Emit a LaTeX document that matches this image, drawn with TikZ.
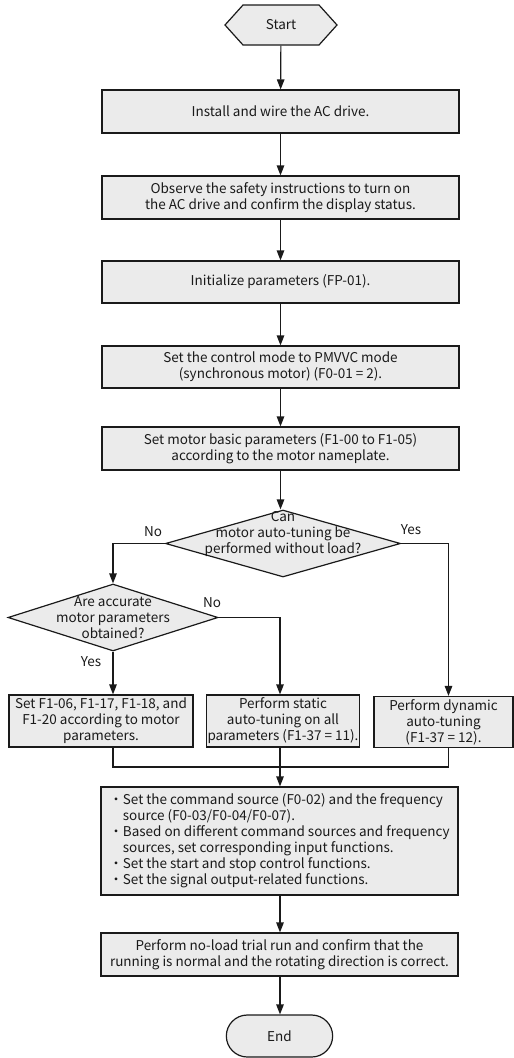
\documentclass[tikz,border=0pt]{standalone}
\usepackage{fontspec}
\setmainfont{Noto Sans CJK SC}
\usetikzlibrary{shapes.geometric,shapes.misc,shapes.symbols,arrows.meta,calc}
\definecolor{boxfill}{HTML}{EBEBEB}
\definecolor{darkline}{HTML}{1A1A1A}

\begin{document}
\begin{tikzpicture}[x=1pt,y=-1pt,
  every node/.style={font=\fontsize{13.5}{16}\selectfont, text=darkline},
  box/.style={draw=darkline, fill=boxfill, line width=1.2pt, minimum width=357pt, minimum height=43pt, align=center, inner sep=2pt},
  decision/.style={diamond, draw=darkline, fill=boxfill, line width=1.2pt, inner sep=0pt},
  arrow/.style={draw=darkline, line width=1.2pt, -{Triangle[length=10pt,width=7.5pt]}},
  link/.style={draw=darkline, line width=1.2pt}]
\useasboundingbox (0,0) rectangle (514,1058);

% Start
\node[signal, signal to=west and east, signal pointer angle=96, draw=darkline, fill=boxfill, line width=1.2pt, minimum width=112pt, minimum height=40pt] (start) at (281,25) {Start};

% Steps
\node[box] (install) at (280.5,111.5) {Install and wire the AC drive.};
\node[box] (observe) at (280.5,197.5) {Observe the safety instructions to turn on\\the AC drive and confirm the display status.};
\node[box, minimum height=42pt] (init) at (280.5,282) {Initialize parameters (FP-01).};
\node[box, minimum height=42pt] (ctrlmode) at (280.5,367) {Set the control mode to PMVVC mode\\(synchronous motor) (F0-01 = 2).};
\node[box] (motorpar) at (280.5,448.5) {Set motor basic parameters (F1-00 to F1-05)\\according to the motor nameplate.};

% Decisions
\node[decision, minimum width=235pt, minimum height=67pt,
  label={[align=center, yshift=9pt]center:Can\\motor auto-tuning be\\performed without load?}] (noload) at (283,543.5) {};
\node[decision, minimum width=210pt, minimum height=67pt,
  label={[align=center]center:Are accurate\\motor parameters\\obtained?}] (accurate) at (113,617.5) {};

% Tuning options
\node[box, minimum width=184pt, minimum height=52pt, inner sep=1pt] (setpar) at (101,721) {Set F1-06, F1-17, F1-18, and\\F1-20 according to motor\\parameters.};
\node[box, minimum width=148pt, minimum height=52pt, inner sep=1pt] (static) at (283,721) {Perform static\\auto-tuning on all\\parameters (F1-37 = 11).};
\node[box, minimum width=139pt, minimum height=51pt, inner sep=1pt] (dynamic) at (443.5,722) {Perform dynamic\\auto-tuning\\(F1-37 = 12).};

% Functions and trial run
\node[box, minimum height=108pt, align=left] (functions) at (279.5,841) {%
·Set the command source (F0-02) and the frequency\\
\hphantom{·}source (F0-03/F0-04/F0-07).\\
·Based on different command sources and frequency\\
\hphantom{·}sources, set corresponding input functions.\\
·Set the start and stop control functions.\\
·Set the signal output-related functions.};
\node[box] (trialrun) at (279.5,954.5) {Perform no-load trial run and confirm that the\\running is normal and the rotating direction is correct.};

% End
\node[rounded rectangle, draw=darkline, fill=boxfill, line width=1.2pt, minimum width=113pt, minimum height=42pt] (end) at (279.5,1036) {End};

% Connectors
\draw[arrow] (start) -- (install);
\draw[arrow] (install) -- (observe);
\draw[arrow] (observe) -- (init);
\draw[arrow] (init) -- (ctrlmode);
\draw[arrow] (ctrlmode) -- (motorpar);
\draw[arrow] (motorpar.south) -- (motorpar.south |- noload.north);
\draw[arrow] (noload.west) -| (accurate.north);
\draw[arrow] (noload.east) -| ([xshift=5pt]dynamic.north);
\draw[arrow] (accurate.east) -| (static.north -| 280,0);
\draw[arrow] (accurate.south) -- (accurate.south |- setpar.north);
\coordinate (merge) at (280,767);
\draw[link] (accurate.south |- setpar.south) |- (merge) -| ([xshift=5pt]dynamic.south);
\draw[arrow] (static.south -| merge) -- (functions.north -| merge);
\draw[arrow] (functions.south -| merge) -- (trialrun.north -| merge);
\draw[arrow] (trialrun.south -| merge) -- (end.north -| merge);

% Branch labels
\node (no1) at (153,532) {No};
\node (yes1) at (411,530) {Yes};
\node (no2) at (212,603) {No};
\node (yes2) at (91,662) {Yes};
\end{tikzpicture}
\end{document}
